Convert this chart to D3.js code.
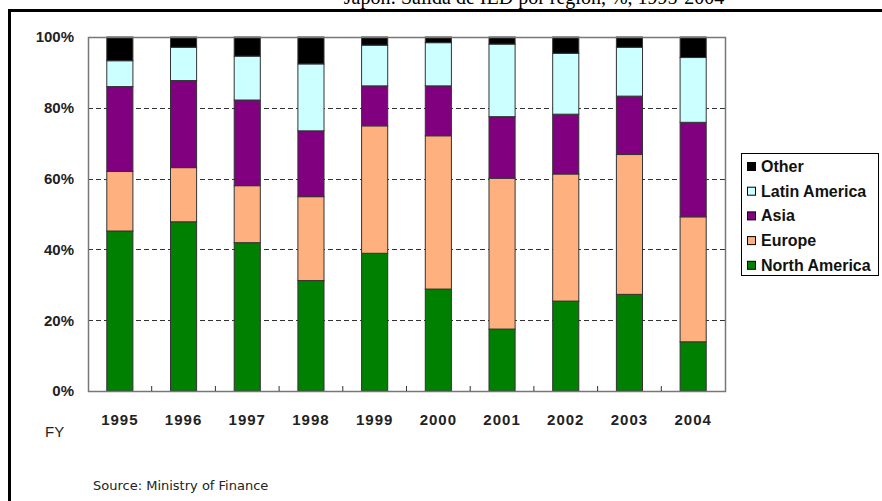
<!DOCTYPE html>
<html>
<head>
<meta charset="utf-8">
<script src="https://cdn.jsdelivr.net/npm/d3@7"></script>
<style>
  body { margin: 0; background: #fff; }
  svg { display: block; }
</style>
</head>
<body>
<div id="chart"></div>
<script>
// years on the x axis
var years = ["1995", "1996", "1997", "1998", "1999", "2000", "2001", "2002", "2003", "2004"];
// share of outward FDI by region, %
var northAmerica = [45.2, 47.8, 41.9, 31.2, 38.9, 28.8, 17.5, 25.4, 27.3, 13.9];
var europe       = [16.8, 15.3, 16.1, 23.7, 36.0, 43.3, 42.6, 35.9, 39.5, 35.3];
var asia         = [24.0, 24.6, 24.2, 18.6, 11.3, 14.1, 17.4, 16.9, 16.5, 26.7];
var latinAmerica = [7.3, 9.4, 12.4, 18.9, 11.5, 12.2, 20.5, 17.2, 13.8, 18.3];
var other        = [6.7, 2.9, 5.4, 7.6, 2.3, 1.6, 2.0, 4.6, 2.9, 5.8];
var regions = ["North America", "Europe", "Asia", "Latin America", "Other"];
var yTicks = [0, 20, 40, 60, 80, 100];

var colors = {
  "North America": "#008000",
  "Europe": "#ffb07f",
  "Asia": "#800080",
  "Latin America": "#ccffff",
  "Other": "#000000"
};

var width = 882,
  height = 501,
  plot = {left: 88, right: 725, top: 37, bottom: 391};

var rows = years.map(function (y, i) {
  return {
    year: y,
    "North America": northAmerica[i],
    "Europe": europe[i],
    "Asia": asia[i],
    "Latin America": latinAmerica[i],
    "Other": other[i]
  };
});

var svg = d3.select("#chart").append("svg")
  .attr("width", width)
  .attr("height", height);

// outer frame (runs off the right and bottom edges)
svg.append("rect")
  .attr("x", 9.5).attr("y", 10.5)
  .attr("width", width + 10).attr("height", height + 10)
  .attr("fill", "none")
  .attr("stroke", "#000")
  .attr("stroke-width", 3);

// title, mostly cut off by the top edge
svg.append("text")
  .attr("x", 534).attr("y", 4)
  .attr("text-anchor", "middle")
  .style("font-family", "'Liberation Serif', 'Times New Roman', serif")
  .style("font-size", "20px")
  .text("Japón: Salida de IED por región, %, 1995-2004");

var x = d3.scaleBand()
  .domain(years)
  .range([plot.left, plot.right])
  .paddingInner(0.59)
  .paddingOuter(0.295);

var y = d3.scaleLinear()
  .domain([0, 100])
  .range([plot.bottom, plot.top]);

// dashed gridlines
svg.append("g")
  .selectAll("line")
  .data(yTicks.filter(function (d) { return d > 0 && d < 100; }))
  .enter().append("line")
  .attr("x1", plot.left).attr("x2", plot.right)
  .attr("y1", function (d) { return Math.round(y(d)) + 0.5; })
  .attr("y2", function (d) { return Math.round(y(d)) + 0.5; })
  .attr("stroke", "#333")
  .attr("stroke-dasharray", "5,3");

var stack = d3.stack().keys(regions);
var series = stack(rows);

svg.append("g")
  .selectAll("g")
  .data(series)
  .enter().append("g")
  .attr("fill", function (d) { return colors[d.key]; })
  .selectAll("rect")
  .data(function (d) { return d; })
  .enter().append("rect")
  .attr("x", function (d) { return x(d.data.year); })
  .attr("width", x.bandwidth())
  .attr("y", function (d) { return y(d[1]); })
  .attr("height", function (d) { return y(d[0]) - y(d[1]); })
  .attr("stroke", "#333")
  .attr("stroke-width", 1);

// plot border
svg.append("rect")
  .attr("x", plot.left + 0.5).attr("y", plot.top + 0.5)
  .attr("width", plot.right - plot.left).attr("height", plot.bottom - plot.top)
  .attr("fill", "none")
  .attr("stroke", "#777")
  .attr("stroke-width", 1.5);

// small ticks between categories, pointing up
var step = x.step();
svg.append("g")
  .selectAll("line")
  .data(years.slice(0, -1))
  .enter().append("line")
  .attr("x1", function (d) { return x(d) + x.bandwidth() + (step - x.bandwidth()) / 2; })
  .attr("x2", function (d) { return x(d) + x.bandwidth() + (step - x.bandwidth()) / 2; })
  .attr("y1", plot.bottom).attr("y2", plot.bottom - 5)
  .attr("stroke", "#333");

var xAxis = svg.append("g")
  .attr("transform", "translate(0," + plot.bottom + ")")
  .call(d3.axisBottom(x).tickSize(0).tickPadding(23));
xAxis.select(".domain").remove();
xAxis.selectAll("text")
  .style("font-family", "'Liberation Sans', Arial, sans-serif")
  .style("font-size", "15px")
  .style("font-weight", "bold")
  .style("letter-spacing", "1px")
  .attr("fill", "#222");

var yAxis = svg.append("g")
  .attr("transform", "translate(" + plot.left + ",0)")
  .call(d3.axisLeft(y).tickValues(yTicks).tickSize(0).tickPadding(14)
    .tickFormat(function (d) { return d + "%"; }));
yAxis.select(".domain").remove();
yAxis.selectAll("text")
  .style("font-family", "'Liberation Sans', Arial, sans-serif")
  .style("font-size", "15px")
  .style("font-weight", "bold")
  .attr("fill", "#222");

svg.append("text")
  .attr("x", 45).attr("y", 437)
  .style("font-family", "'Liberation Sans', Arial, sans-serif")
  .style("font-size", "15px")
  .attr("fill", "#222")
  .text("FY");

svg.append("text")
  .attr("x", 93).attr("y", 490)
  .style("font-family", "'DejaVu Sans', Verdana, sans-serif")
  .style("font-size", "13px")
  .attr("fill", "#222")
  .text("Source: Ministry of Finance");

// legend, top to bottom in reverse stack order
var legend = svg.append("g");
legend.append("rect")
  .attr("x", 741.5).attr("y", 153.5)
  .attr("width", 137).attr("height", 122)
  .attr("fill", "#fff")
  .attr("stroke", "#000");

var items = legend.selectAll("g.item")
  .data(regions.slice().reverse())
  .enter().append("g")
  .attr("class", "item")
  .attr("transform", function (d, i) { return "translate(0," + (172 + i * 24.7) + ")"; });

items.append("rect")
  .attr("x", 747.5).attr("y", -9.5)
  .attr("width", 8).attr("height", 8)
  .attr("fill", function (d) { return colors[d]; })
  .attr("stroke", "#000");

items.append("text")
  .attr("x", 761).attr("y", 0)
  .style("font-family", "'Liberation Sans', Arial, sans-serif")
  .style("font-size", "16px")
  .style("font-weight", "bold")
  .attr("fill", "#111")
  .text(function (d) { return d; });
</script>
</body>
</html>
